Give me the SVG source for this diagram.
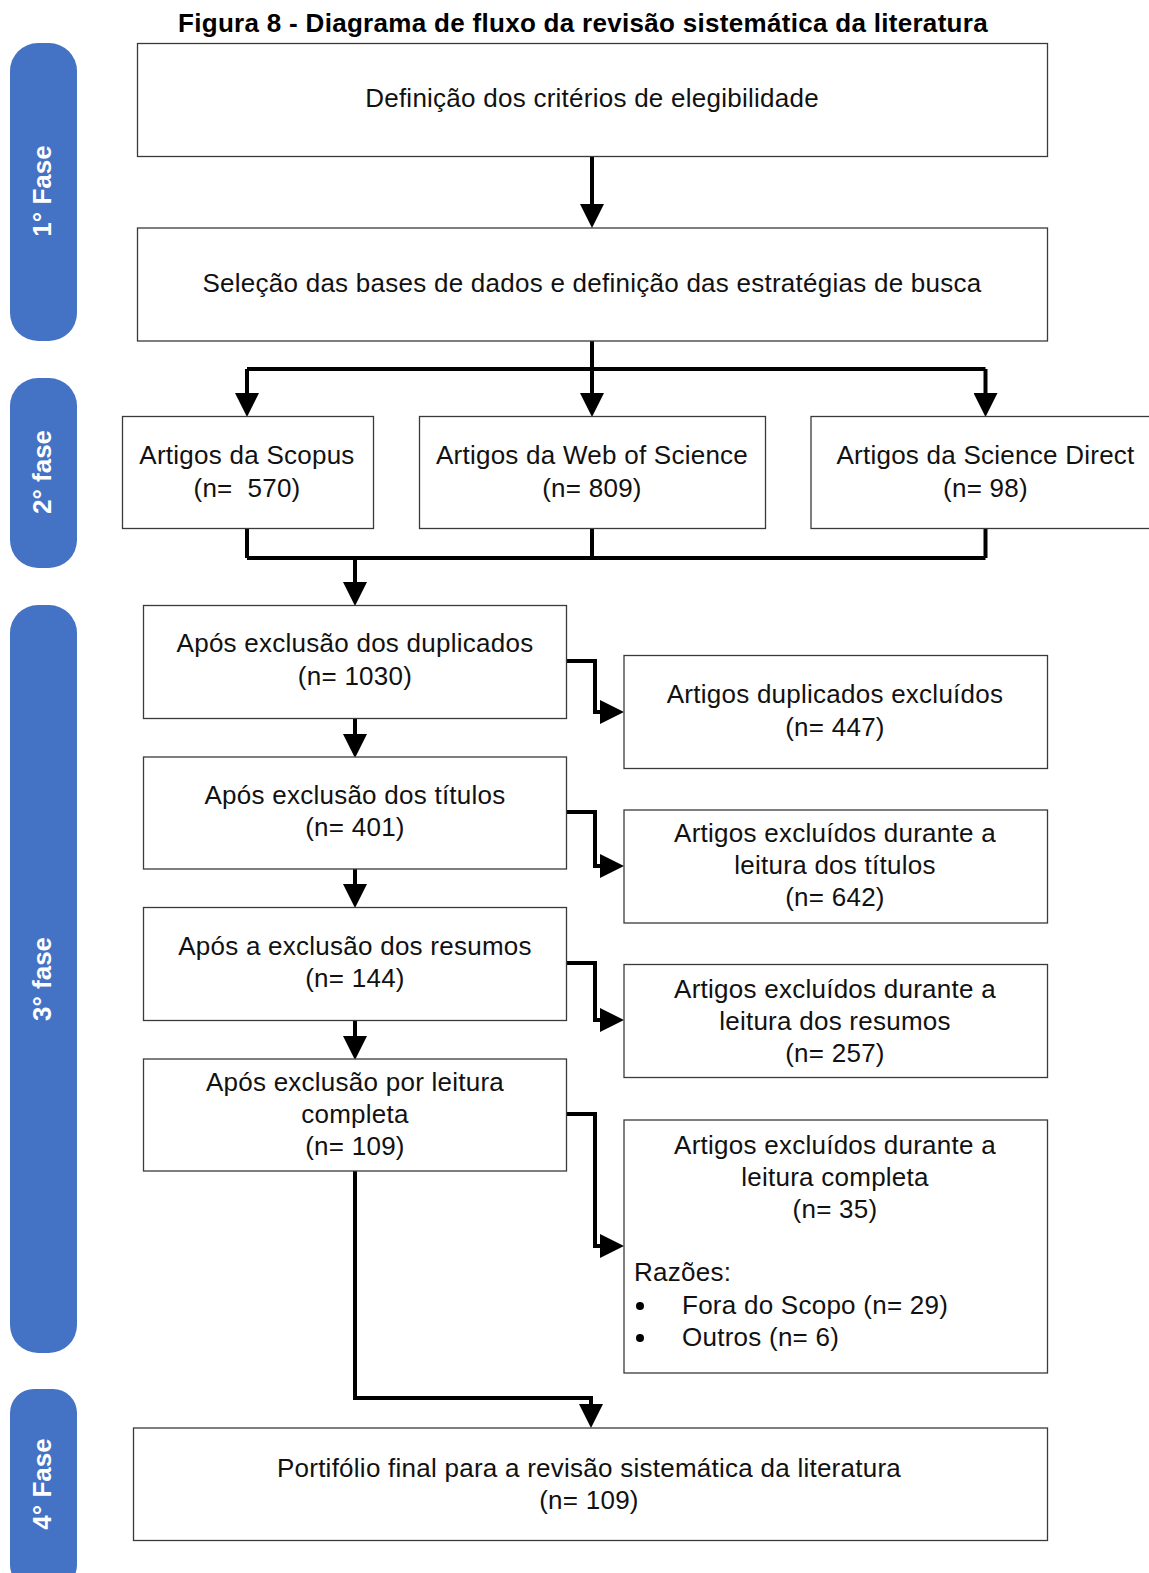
<svg xmlns="http://www.w3.org/2000/svg" width="1149" height="1573" viewBox="0 0 1149 1573">
<style>
.box{fill:#fff;stroke:#3a3a3a;stroke-width:1.3}
.pill{fill:#4472C4}
.t{font-family:"Liberation Sans",Arial,sans-serif;font-size:26px;fill:#111;text-anchor:middle;letter-spacing:0.25px}
.tl{text-anchor:start}
.pre{white-space:pre}
.ph{font-family:"Liberation Sans",Arial,sans-serif;font-size:26px;font-weight:bold;fill:#fff;text-anchor:middle}
.title{font-family:"Liberation Sans",Arial,sans-serif;font-size:26px;font-weight:bold;fill:#000;text-anchor:middle;letter-spacing:0.3px}
.c{fill:none;stroke:#000;stroke-width:4}
.ca{fill:none;stroke:#000;stroke-width:4;marker-end:url(#ah)}
</style>
<defs>
<marker id="ah" viewBox="0 0 10 10" refX="0" refY="5" markerWidth="24" markerHeight="24" markerUnits="userSpaceOnUse" orient="auto">
<path d="M0,0 L10,5 L0,10 Z" fill="#000"/>
</marker>
</defs>
<rect width="1149" height="1573" fill="#fff"/>
<text class="title" x="583" y="32">Figura 8 - Diagrama de fluxo da revisão sistemática da literatura</text>

<g id="phase1"><rect class="pill" x="10" y="43" width="67" height="298" rx="28"/><text class="ph" transform="translate(51,191) rotate(-90)">1° Fase</text></g>
<g id="phase2"><rect class="pill" x="10" y="378" width="67" height="190" rx="28"/><text class="ph" transform="translate(51,472) rotate(-90)">2° fase</text></g>
<g id="phase3"><rect class="pill" x="10" y="605" width="67" height="748" rx="28"/><text class="ph" transform="translate(51,979) rotate(-90)">3° fase</text></g>
<g id="phase4"><rect class="pill" x="10" y="1389" width="67" height="200" rx="24"/><text class="ph" transform="translate(51,1484) rotate(-90)">4° Fase</text></g>

<g id="connectors">
<path class="ca" d="M592,156.5 V204"/>
<path class="c" d="M592,341 V369 M247,369 H985.5"/>
<path class="ca" d="M592,369 V393"/>
<path class="ca" d="M247,369 V393"/>
<path class="ca" d="M985.5,369 V393"/>
<path class="c" d="M247,529 V558 M592,529 V558 M985.5,529 V558 M247,558 H985.5"/>
<path class="ca" d="M355,558 V582"/>
<path class="ca" d="M355,718.5 V734"/>
<path class="ca" d="M355,869 V884"/>
<path class="ca" d="M355,1020.6 V1036"/>
<path class="ca" d="M567,661 H595 V712 H600"/>
<path class="ca" d="M567,812 H595 V866 H600"/>
<path class="ca" d="M567,963 H595 V1020 H600"/>
<path class="ca" d="M567,1114 H595 V1246 H600"/>
<path class="ca" d="M355,1171 V1398 H591 V1404"/>
</g>

<g id="n1"><rect class="box" x="137.5" y="43.5" width="910" height="113"/><text class="t" x="592" y="107">Definição dos critérios de elegibilidade</text></g>
<g id="n2"><rect class="box" x="137.5" y="228" width="910" height="113"/><text class="t" x="592" y="292">Seleção das bases de dados e definição das estratégias de busca</text></g>
<g id="n3"><rect class="box" x="122.5" y="416.5" width="251" height="112"/><text class="t" x="247" y="464">Artigos da Scopus</text><text class="t pre" x="247" y="497" xml:space="preserve">(n=  570)</text></g>
<g id="n4"><rect class="box" x="419.5" y="416.5" width="346" height="112"/><text class="t" x="592" y="464">Artigos da Web of Science</text><text class="t" x="592" y="497">(n= 809)</text></g>
<g id="n5"><rect class="box" x="811" y="416.5" width="360" height="112"/><text class="t" x="985.5" y="464">Artigos da Science Direct</text><text class="t" x="985.5" y="497">(n= 98)</text></g>
<g id="n6"><rect class="box" x="143.5" y="605.5" width="423" height="113"/><text class="t" x="355" y="652">Após exclusão dos duplicados</text><text class="t" x="355" y="685">(n= 1030)</text></g>
<g id="n7"><rect class="box" x="624" y="655.5" width="423.5" height="113"/><text class="t" x="835" y="703">Artigos duplicados excluídos</text><text class="t" x="835" y="736">(n= 447)</text></g>
<g id="n8"><rect class="box" x="143.5" y="757" width="423" height="112"/><text class="t" x="355" y="804">Após exclusão dos títulos</text><text class="t" x="355" y="836">(n= 401)</text></g>
<g id="n9"><rect class="box" x="624" y="810" width="423.5" height="113"/><text class="t" x="835" y="842">Artigos excluídos durante a</text><text class="t" x="835" y="874">leitura dos títulos</text><text class="t" x="835" y="906">(n= 642)</text></g>
<g id="n10"><rect class="box" x="143.5" y="907.5" width="423" height="113"/><text class="t" x="355" y="955">Após a exclusão dos resumos</text><text class="t" x="355" y="987">(n= 144)</text></g>
<g id="n11"><rect class="box" x="624" y="964.5" width="423.5" height="113"/><text class="t" x="835" y="998">Artigos excluídos durante a</text><text class="t" x="835" y="1030">leitura dos resumos</text><text class="t" x="835" y="1062">(n= 257)</text></g>
<g id="n12"><rect class="box" x="143.5" y="1059" width="423" height="112"/><text class="t" x="355" y="1091">Após exclusão por leitura</text><text class="t" x="355" y="1123">completa</text><text class="t" x="355" y="1155">(n= 109)</text></g>
<g id="n13"><rect class="box" x="624" y="1120" width="423.5" height="253"/><text class="t" x="835" y="1154">Artigos excluídos durante a</text><text class="t" x="835" y="1186">leitura completa</text><text class="t" x="835" y="1218">(n= 35)</text><text class="t tl" x="634" y="1281">Razões:</text><circle cx="640" cy="1306" r="4" fill="#000"/><text class="t tl" x="682" y="1314">Fora do Scopo (n= 29)</text><circle cx="640" cy="1338" r="4" fill="#000"/><text class="t tl" x="682" y="1346">Outros (n= 6)</text></g>
<g id="n14"><rect class="box" x="133.5" y="1428" width="914" height="112.5"/><text class="t" x="589" y="1477">Portifólio final para a revisão sistemática da literatura</text><text class="t" x="589" y="1509">(n= 109)</text></g>
</svg>
